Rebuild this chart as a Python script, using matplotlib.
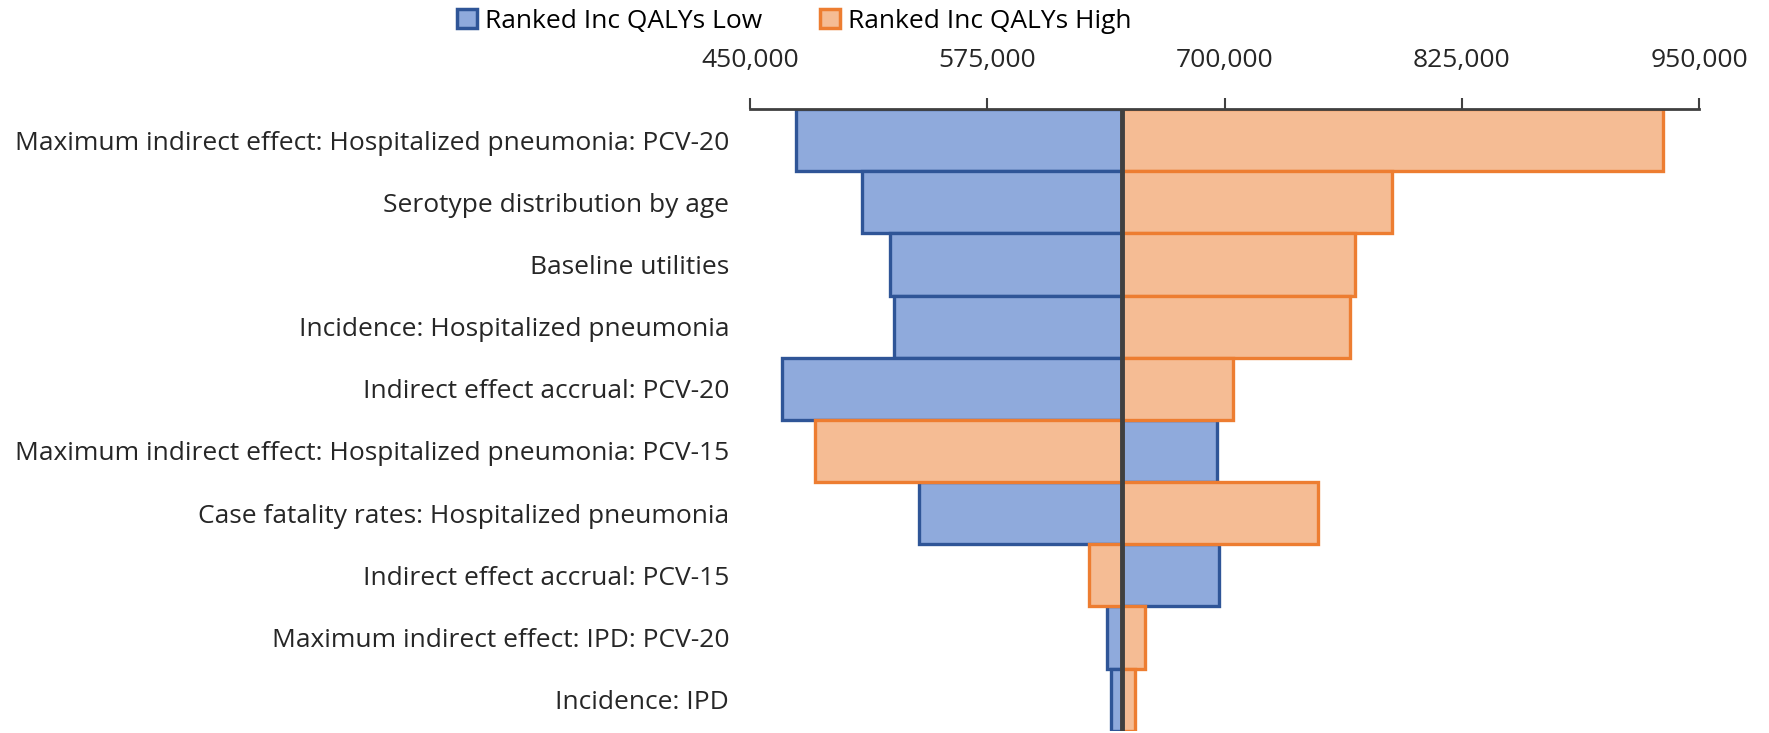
import matplotlib.pyplot as plt
from matplotlib.patches import Patch
from matplotlib.ticker import FuncFormatter

plt.rcParams['font.family'] = ['Open Sans', 'DejaVu Sans']

# tornado data (top row first)
labels = ['Maximum indirect effect: Hospitalized pneumonia: PCV-20',
          'Serotype distribution by age',
          'Baseline utilities',
          'Incidence: Hospitalized pneumonia',
          'Indirect effect accrual: PCV-20',
          'Maximum indirect effect: Hospitalized pneumonia: PCV-15',
          'Case fatality rates: Hospitalized pneumonia',
          'Indirect effect accrual: PCV-15',
          'Maximum indirect effect: IPD: PCV-20',
          'Incidence: IPD']
base = 646000
low = [474000, 509000, 523500, 526000, 467000, 695800, 539000, 697300, 638300, 640100]
high = [930800, 788000, 768700, 766000, 704600, 484200, 749200, 628800, 658100, 652600]
ticks = [450000, 575000, 700000, 825000, 950000]

blue_fill, blue_edge = '#8FAADC', '#2F5597'
orange_fill, orange_edge = '#F5BC94', '#ED7D31'
dark = '#404040'

fig = plt.figure(figsize=(17.69, 7.33), dpi=100)
ax = fig.add_axes([750 / 1769, 0.003, 949 / 1769, 1 - 0.003 - 109 / 733])

y = list(range(len(labels)))
ax.barh(y, [v - base for v in low], left=base, height=1.0,
        color=blue_fill, edgecolor=blue_edge, linewidth=2.4, zorder=2)
ax.barh(y, [v - base for v in high], left=base, height=1.0,
        color=orange_fill, edgecolor=orange_edge, linewidth=2.4, zorder=2)
ax.axvline(base, color=dark, lw=3.5, zorder=3)

ax.set_xlim(ticks[0], ticks[-1])
ax.set_ylim(len(labels) - 0.5, -0.5)
ax.set_yticks(y)
ax.set_yticklabels(labels, fontsize=19, color='#262626')
ax.tick_params(axis='y', length=0, pad=15)

ax.xaxis.tick_top()
ax.set_xticks(ticks)
ax.xaxis.set_major_formatter(FuncFormatter(lambda v, p: f'{int(v):,}'))
ax.tick_params(axis='x', length=8, width=1.5, color=dark, labelsize=19,
               labelcolor='#262626', pad=18)

for s in ['bottom', 'left', 'right']:
    ax.spines[s].set_visible(False)
ax.spines['top'].set_color(dark)
ax.spines['top'].set_linewidth(2)

handles = [Patch(facecolor=blue_fill, edgecolor=blue_edge, linewidth=2.5, label='Ranked Inc QALYs Low'),
           Patch(facecolor=orange_fill, edgecolor=orange_edge, linewidth=2.5, label='Ranked Inc QALYs High')]
fig.legend(handles=handles, loc='center', bbox_to_anchor=(0.449, 0.971), ncol=2,
           frameon=False, fontsize=19, handlelength=0.75, handleheight=0.75,
           handletextpad=0.3, columnspacing=2.2, borderpad=0)

fig.savefig('out.png')
